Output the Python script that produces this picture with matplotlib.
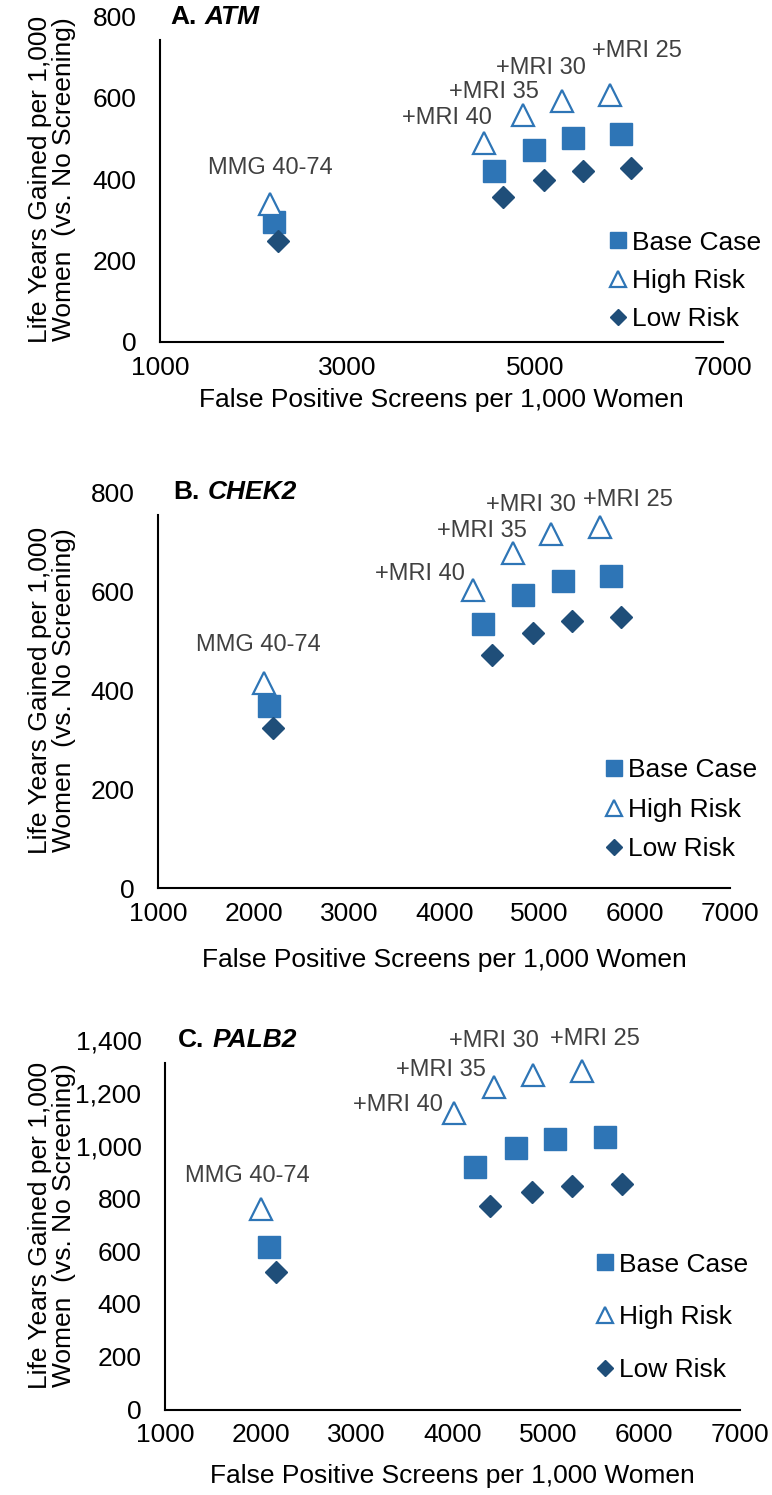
import matplotlib
matplotlib.use("Agg")
import matplotlib.pyplot as plt
from matplotlib.ticker import FuncFormatter

plt.rcParams['font.family'] = ['Liberation Sans', 'DejaVu Sans']

# Strategies (same order in every series)
strategies = ["MMG 40-74", "+MRI 40", "+MRI 35", "+MRI 30", "+MRI 25"]
series_names = ["Base Case", "High Risk", "Low Risk"]

# A. ATM - false positives and life years per 1,000 women
atm_fp_base = [2216, 4556, 4989, 5404, 5918]
atm_ly_base = [294, 421, 473, 501, 511]
atm_fp_high = [2170, 4450, 4872, 5284, 5798]
atm_ly_high = [340, 490, 557, 593, 607]
atm_fp_low = [2258, 4652, 5088, 5503, 6018]
atm_ly_low = [249, 357, 398, 420, 427]

# B. CHEK2
chek2_fp_base = [2164, 4404, 4830, 5243, 5750]
chek2_ly_base = [369, 534, 593, 621, 631]
chek2_fp_high = [2112, 4299, 4719, 5121, 5635]
chek2_ly_high = [415, 603, 676, 716, 729]
chek2_fp_low = [2199, 4498, 4929, 5344, 5858]
chek2_ly_low = [323, 470, 516, 540, 547]

# C. PALB2
palb2_fp_base = [2089, 4236, 4664, 5074, 5593]
palb2_ly_base = [617, 919, 991, 1024, 1033]
palb2_fp_high = [1999, 4017, 4434, 4844, 5356]
palb2_ly_high = [758, 1124, 1223, 1267, 1284]
palb2_fp_low = [2159, 4392, 4828, 5245, 5767]
palb2_ly_low = [520, 772, 823, 847, 853]

# colours
c_base = '#2E75B6'
c_high = '#2E75B6'
c_low = '#1F4E79'
c_lab = '#404040'

W, H = 772, 1495
fig = plt.figure(figsize=(W / 100, H / 100), dpi=100)


def px_axes(left, right, top, bottom):
    # pixel box (from top-left) -> figure fraction
    return fig.add_axes([left / W, 1 - bottom / H, (right - left) / W, (bottom - top) / H])


def panel(ax, letter, gene, fp_b, ly_b, fp_h, ly_h, fp_l, ly_l,
          ymax, ystep, xstep, spine_top, title_x, label_off, leg_x, leg_y, leg_sp):
    ax.plot(fp_b, ly_b, 's', ms=15.8, color=c_base, mec=c_base, label=series_names[0])
    ax.plot(fp_h, ly_h, '^', ms=16, mfc='white', mec=c_high, mew=1.6, label=series_names[1])
    ax.plot(fp_l, ly_l, 'D', ms=11.5, color=c_low, mec=c_low, label=series_names[2])

    # strategy labels next to the high-risk points
    for name, x, y, off in zip(strategies, fp_h, ly_h, label_off):
        ax.annotate(name, (x, y), xytext=off, textcoords='offset pixels',
                    ha='center', va='center', fontsize=17, color=c_lab)

    ax.set_xlim(1000, 7000)
    ax.set_ylim(0, ymax)
    ax.set_xticks(range(1000, 7001, xstep))
    ax.set_yticks(range(0, ymax + 1, ystep))
    ax.yaxis.set_major_formatter(FuncFormatter(lambda v, p: f'{v:,.0f}'))
    ax.tick_params(length=0, labelsize=19)
    ax.tick_params(axis='x', pad=10)
    ax.tick_params(axis='y', pad=17)

    for s in ['top', 'right']:
        ax.spines[s].set_visible(False)
    ax.spines['left'].set_linewidth(1.5)
    ax.spines['bottom'].set_linewidth(1.5)
    ax.spines['left'].set_bounds(0, spine_top)

    ax.set_xlabel('False Positive Screens per 1,000 Women', fontsize=19, va='center')
    ax.xaxis.set_label_coords(0.5, -0.18)
    ax.set_ylabel('Life Years Gained per 1,000\nWomen  (vs. No Screening)', fontsize=19,
                  va='center', ha='center', multialignment='center', linespacing=1.05)

    t = ax.text(title_x, 1.0, letter + '.', transform=ax.transAxes, fontsize=19,
                fontweight='bold', va='center', ha='left')
    ax.annotate(gene, xy=(1, 0), xycoords=t, xytext=(8, 0), textcoords='offset pixels',
                fontsize=19, fontweight='bold', fontstyle='italic', va='bottom', ha='left')

    ax.legend(loc='center left', bbox_to_anchor=(leg_x, leg_y), frameon=False,
              fontsize=19, markerscale=0.75, handlelength=0.7, handletextpad=0.18,
              borderpad=0, borderaxespad=0, labelspacing=leg_sp)


axA = px_axes(160, 723, 16.7, 341.7)
panel(axA, 'A', 'ATM', atm_fp_base, atm_ly_base, atm_fp_high, atm_ly_high,
      atm_fp_low, atm_ly_low, 800, 200, 2000, 743, 0.018,
      [(1, 36), (-37, 25), (-29, 23), (-21, 33), (27, 44)], 0.797, 0.187, 0.54)
axA.yaxis.set_label_coords(52 / W, (1 - 179 / H), transform=fig.transFigure)

axB = px_axes(158.3, 730, 492, 888.3)
panel(axB, 'B', 'CHEK2', chek2_fp_base, chek2_ly_base, chek2_fp_high, chek2_ly_high,
      chek2_fp_low, chek2_ly_low, 800, 200, 1000, 754, 0.026,
      [(-6, 38), (-53, 16), (-31, 22), (-20, 29), (28, 27)], 0.781, 0.198, 0.59)
axB.yaxis.set_label_coords(52 / W, (1 - 690 / H), transform=fig.transFigure)

axC = px_axes(165, 740, 1040, 1409.5)
panel(axC, 'C', 'PALB2', palb2_fp_base, palb2_ly_base, palb2_fp_high, palb2_ly_high,
      palb2_fp_low, palb2_ly_low, 1400, 200, 1000, 1311, 0.023,
      [(-13, 33), (-56, 8), (-53, 17), (-39, 34), (12, 32)], 0.75, 0.2495, 1.09)
axC.yaxis.set_label_coords(52 / W, (1 - 1225 / H), transform=fig.transFigure)

fig.savefig('out.png', dpi=100)
